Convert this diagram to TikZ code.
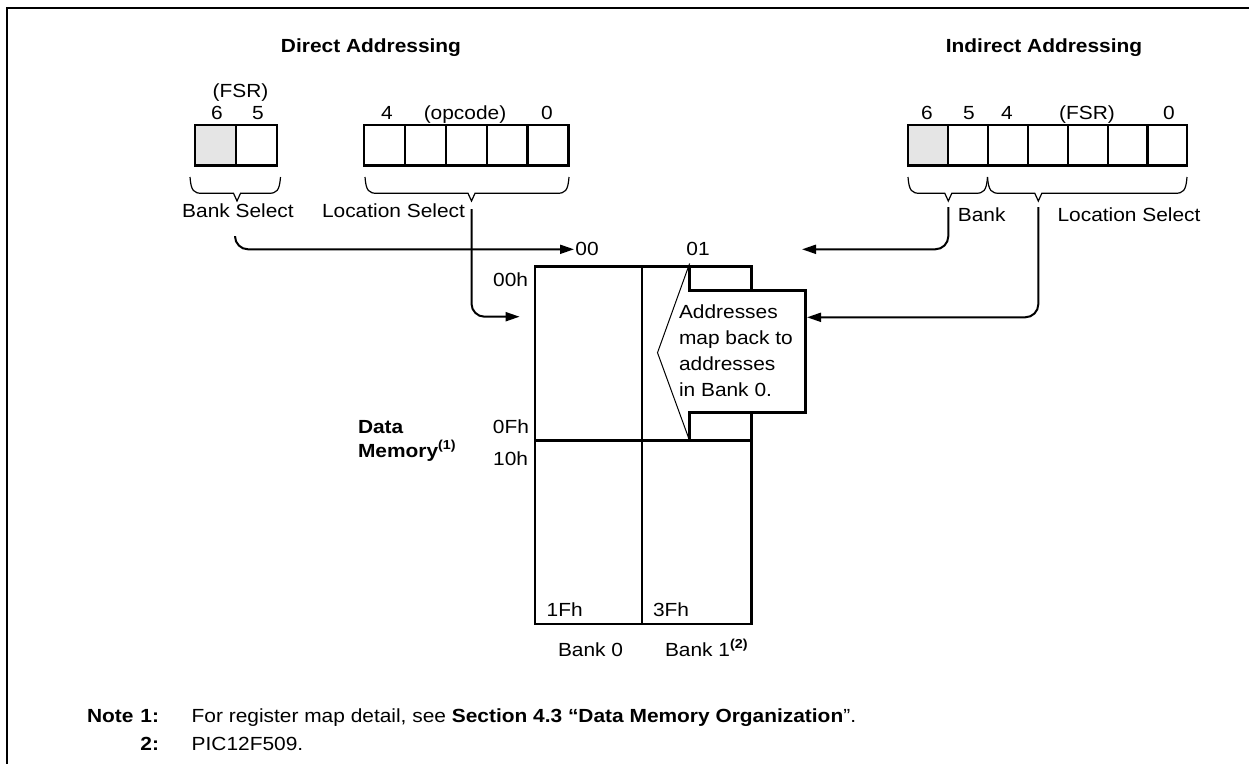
\documentclass[tikz,border=0pt]{standalone}
\usepackage{fontspec}
\setmainfont{Liberation Sans}[FakeStretch=1.1]
\usetikzlibrary{arrows.meta}
\newcommand{\mybrace}[4]{% x1, x2, tip x, name of tip
  \draw[brace] (#1,177) .. controls (#1+1,191) and (#1+4,193.3) .. (#1+12,193.3)
    -- (#3-3.5,193.3) -- (#3,201) coordinate (#4) -- (#3+3.5,193.3)
    -- (#2-12,193.3) .. controls (#2-4,193.3) and (#2-1,191) .. (#2,177);}
\begin{document}
\begin{tikzpicture}[x=1pt,y=-1pt,
  txt/.style={inner sep=0pt, outer sep=0pt, anchor=base, font=\fontsize{19}{23}\selectfont},
  bold/.style={txt, font=\fontsize{19}{23}\selectfont\bfseries},
  cell/.style={draw=black, line width=2.3pt},
  brace/.style={draw=black, line width=1.2pt},
  conn/.style={draw=black, line width=2pt, rounded corners=13pt},
  tip/.style={-{Triangle[length=14pt,width=9pt]}},
  mem/.style={draw=black, line width=2.6pt},
  thinline/.style={draw=black, line width=1pt},
  shade/.style={fill=black!10}]
\useasboundingbox (0,0) rectangle (1249,763);
% frame
\draw[line width=2.5pt] (1252,8) -- (7,8) -- (7,766);

% titles
\node[bold] (tDirect) at (371,52) {Direct Addressing};
\node[bold] (tIndirect) at (1044,52) {Indirect Addressing};

% direct FSR bits
\fill[shade] (195,125) rectangle (236,165.5);
\draw[cell] (195,125) rectangle (277,165.5);
\draw[cell] (236,125) -- (236,165.5);
\node[txt] (fsrD) at (240.5,97) {(FSR)};
\node[txt] (d6) at (217,119) {6};
\node[txt] (d5) at (258,119) {5};

% opcode
\draw[cell] (364,125) rectangle (568.5,165.5);
\foreach \x in {404.9,445.8,486.7,527.6} \draw[cell] (\x,125) -- (\x,165.5);
\node[txt] (o4) at (387,119) {4};
\node[txt] (oOp) at (465,119) {(opcode)};
\node[txt] (o0) at (547,119) {0};

% indirect FSR
\fill[shade] (908,125) rectangle (948,165.5);
\draw[cell] (908,125) rectangle (1187,165.5);
\foreach \x in {948,988,1028,1068,1108,1147.5} \draw[cell] (\x,125) -- (\x,165.5);
\node[txt] (i6) at (927,119.5) {6};
\node[txt] (i5) at (969,119.5) {5};
\node[txt] (i4) at (1007,119.5) {4};
\node[txt] (iFsr) at (1087,119.5) {(FSR)};
\node[txt] (i0) at (1169,119.5) {0};

% braces
\mybrace{190}{280.5}{237}{bsTip}
\mybrace{365}{569}{471.5}{lsTip}
\mybrace{908}{987.5}{948.3}{ibTip}
\mybrace{987.5}{1187}{1038.3}{ilTip}

\node[txt] (lBankSel) at (238,217) {Bank Select};
\node[txt] (lLocSel) at (393.5,217) {Location Select};
\node[txt] (lBank) at (981.7,221) {Bank};
\node[txt] (lLocSelI) at (1129,221) {Location Select};

% memory
\draw[mem] (535,266.7) rectangle (751.5,624);
\draw[mem] (642,266.7) -- (642,624);
\draw[mem] (535,440.7) -- (752.5,440.7);
% callout
\fill[white] (689.6,290.7) rectangle (805.7,412.7);
\draw[mem, line join=miter] (689.6,266.7) -- (689.6,290.7) -- (805.7,290.7) -- (805.7,412.7) -- (689.6,412.7) -- (689.6,440.7);
\draw[thinline] (689.6,263.5) -- (657.5,352.7) -- (689.6,440.7);
\node[txt, anchor=base west] (c1) at (679,318) {Addresses};
\node[txt, anchor=base west] (c2) at (679,344) {map back to};
\node[txt, anchor=base west] (c3) at (679,370) {addresses};
\node[txt, anchor=base west] (c4) at (679,396) {in Bank 0.};

% memory labels
\node[txt] (b00) at (587,255) {00};
\node[txt] (b01) at (698,255) {01};
\node[txt, anchor=base east] (h00) at (528,286.7) {00h};
\node[txt, anchor=base east] (h0F) at (529,433.3) {0Fh};
\node[txt, anchor=base east] (h10) at (528,465) {10h};
\node[txt, anchor=base west] (h1F) at (546.7,616.7) {1Fh};
\node[txt, anchor=base west] (h3F) at (653,616.7) {3Fh};
\node[bold, anchor=base west] (dm1) at (358,433) {Data};
\node[bold, anchor=base west] (dm2) at (358,457) {Memory\raisebox{8pt}{\fontsize{13}{13}\selectfont(1)}};
\node[txt, anchor=base west] (bk0) at (558,656.7) {Bank 0};
\node[txt, anchor=base west] (bk1) at (665,656.7) {Bank 1\raisebox{8pt}{\fontsize{13}{13}\selectfont\bfseries(2)}};

% connectors
\coordinate (bsStart) at (235,236);
\coordinate (to00) at (574,249.3);
\draw[conn,tip] (bsStart) |- (to00);
\coordinate (lsStart) at (471.5,209);
\coordinate (toMem) at (519.6,316.7);
\draw[conn,tip] (lsStart) |- (toMem);
\coordinate (ibStart) at (948.3,207);
\coordinate (to01) at (802,249.3);
\draw[conn,tip] (ibStart) |- (to01);
\coordinate (ilStart) at (1038.3,207);
\coordinate (toCallout) at (807,317.3);
\draw[conn,tip] (ilStart) |- (toCallout);

% notes
\node[bold, anchor=base west] (note) at (87,722) {Note};
\node[bold, anchor=base east] (n1) at (159,722) {1:};
\node[bold, anchor=base east] (n2) at (159,750) {2:};
\node[txt, anchor=base west] (n1t) at (191.7,722) {For register map detail, see \textbf{Section 4.3 “Data Memory Organization}”.};
\node[txt, anchor=base west] (n2t) at (191.7,750) {PIC12F509.};
\end{tikzpicture}
\end{document}
